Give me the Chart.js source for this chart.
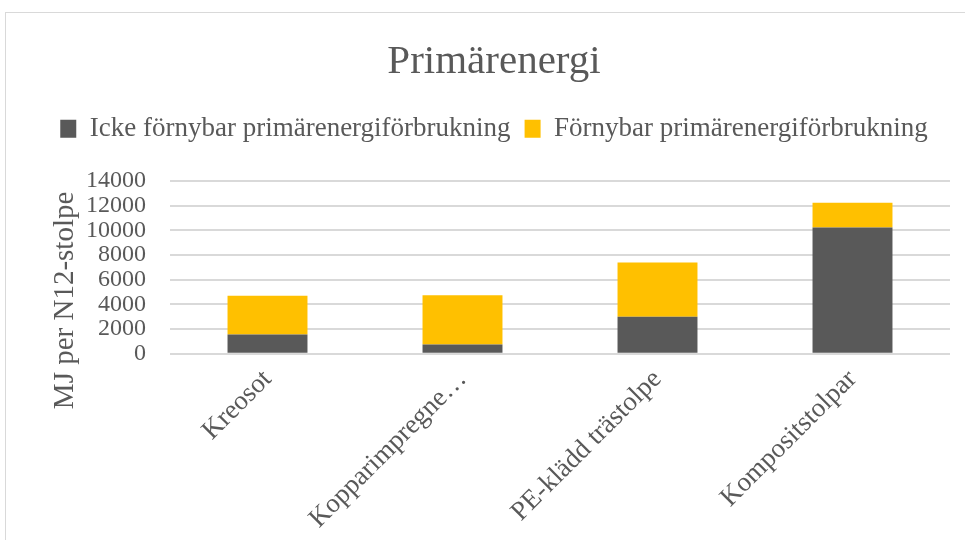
<!DOCTYPE html>
<html>
<head>
<meta charset="utf-8">
<script src="https://cdn.jsdelivr.net/npm/chart.js@4.4.1/dist/chart.umd.min.js"></script>
<style>
  body { margin: 0; background: #ffffff; overflow: hidden; }
  #frame { position: absolute; left: 5px; top: 12px; width: 1000px; height: 600px; border: 1px solid #d9d9d9; }
  #chart { position: absolute; left: 0; top: 0; }
</style>
</head>
<body>
<div id="frame"></div>
<canvas id="chart" width="965" height="540"></canvas>
<script>
// categories and series
const categories = ["Kreosot", "Kopparimpregne\u2026", "PE-klädd trästolpe", "Kompositstolpar"];
const nonRenewable = [1560, 750, 3000, 10250];
const renewable = [3140, 4000, 4400, 2000];
const seriesNames = ["Icke förnybar primärenergiförbrukning", "Förnybar primärenergiförbrukning"];
const yTicks = [0, 2000, 4000, 6000, 8000, 10000, 12000, 14000];

const textColor = "#595959";
const fontFamily = "'Liberation Serif', 'DejaVu Serif', serif";

// y axis title drawn by hand so it can sit a bit below the plot centre, like the original
const yTitlePlugin = {
  id: 'yTitle',
  afterDraw(chart){
    let ctx = chart.ctx;
    let area = chart.chartArea;
    ctx.save();
    ctx.translate(65, (area.top + area.bottom) / 2 + 33);
    ctx.rotate(-Math.PI / 2);
    ctx.font = "29px " + fontFamily;
    ctx.fillStyle = textColor;
    ctx.textAlign = "center";
    ctx.textBaseline = "middle";
    ctx.fillText("MJ per N12-stolpe", 0, 0);
    ctx.restore();
  }
};

// extra room under the legend
const legendGap = {
  id: 'legendGap',
  beforeInit(chart){
    const fit = chart.legend.fit;
    chart.legend.fit = function(){
      fit.bind(chart.legend)();
      this.height += 29;
    };
  }
};

const ctx = document.getElementById('chart').getContext('2d');
new Chart(ctx, {
  type: 'bar',
  data: {
    labels: categories,
    datasets: [
      {
        label: seriesNames[0],
        data: nonRenewable,
        backgroundColor: "#595959",
        barPercentage: 0.82,
        categoryPercentage: 0.5,
      },
      {
        label: seriesNames[1],
        data: renewable,
        backgroundColor: "#ffc000",
        barPercentage: 0.82,
        categoryPercentage: 0.5,
      }
    ]
  },
  options: {
    responsive: false,
    animation: false,
    layout: {
      padding: { left: 38, right: 15, top: 0, bottom: 3 }
    },
    plugins: {
      title: {
        display: true,
        text: "Primärenergi",
        color: textColor,
        font: { family: fontFamily, size: 41, weight: 'normal' },
        padding: { top: 38, bottom: 14 }
      },
      legend: {
        position: 'top',
        labels: {
          color: textColor,
          font: { family: fontFamily, size: 27 },
          boxWidth: 16,
          boxHeight: 18,
          padding: 14
        }
      },
      tooltip: { enabled: false }
    },
    scales: {
      x: {
        stacked: true,
        grid: { display: false },
        border: { display: false },
        ticks: {
          color: textColor,
          font: { family: fontFamily, size: 27 },
          minRotation: 45,
          maxRotation: 45,
          autoSkip: false,
          padding: 2
        }
      },
      y: {
        stacked: true,
        min: 0,
        max: 14000,
        afterBuildTicks(scale){
          scale.ticks = yTicks.map(v => ({ value: v }));
        },
        afterFit(scale){
          scale.width = 132;
        },
        grid: { color: "#d9d9d9", lineWidth: 2, drawTicks: false },
        border: { display: false },
        ticks: {
          color: textColor,
          font: { family: fontFamily, size: 24 },
          padding: 24,
          autoSkip: false,
          callback: v => String(v)
        }
      }
    }
  },
  plugins: [yTitlePlugin, legendGap]
});
</script>
</body>
</html>
